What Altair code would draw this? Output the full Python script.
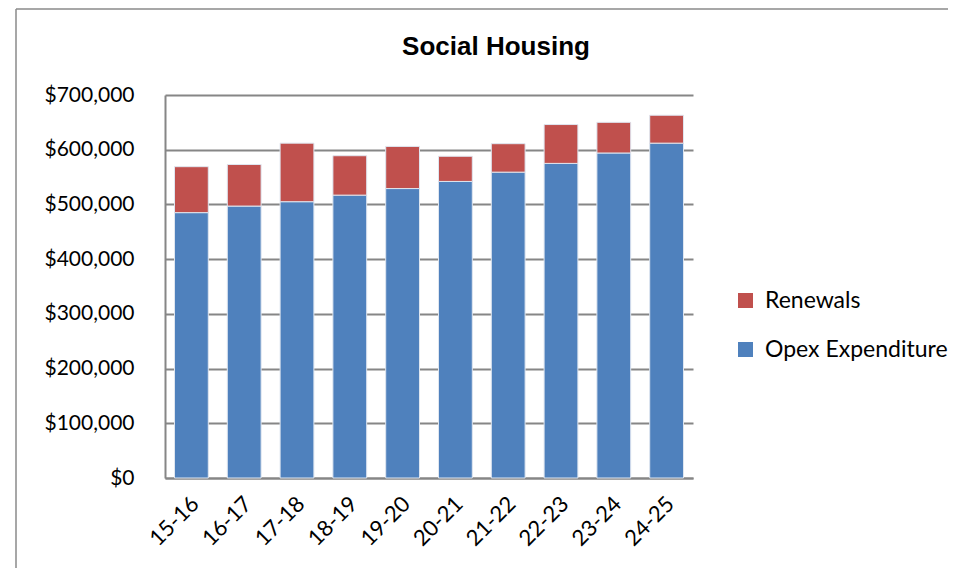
import altair as alt
import pandas as pd

years = ["15-16", "16-17", "17-18", "18-19", "19-20", "20-21", "21-22", "22-23", "23-24", "24-25"]
opex = [485000, 497000, 505000, 517000, 529000, 542000, 559000, 575000, 594000, 612000]
renewals = [84000, 76000, 107000, 72000, 77000, 46000, 52000, 71000, 56000, 51000]
series = ["Renewals", "Opex Expenditure"]
colors = ["#C0504D", "#4F81BD"]
title_text = ["Social Housing"]

rows = []
for y, o, r in zip(years, opex, renewals):
    rows.append({"year": y, "series": "Opex Expenditure", "value": o, "order": 0})
    rows.append({"year": y, "series": "Renewals", "value": r, "order": 1})
df = pd.DataFrame(rows)

FONT = "Lato"

bars = alt.Chart(df).mark_bar(stroke="#dfe6f0", strokeWidth=1).encode(
    x=alt.X("year:N", sort=years, title=None,
            scale=alt.Scale(paddingInner=0.36, paddingOuter=0.18),
            axis=alt.Axis(labelAngle=-45, labelAlign="right", labelBaseline="middle",
                          labelPadding=22, labelOffset=4, ticks=False, domainColor="#868686",
                          domainWidth=2, labelFont=FONT, labelFontSize=22,
                          labelColor="#000000")),
    y=alt.Y("value:Q", stack="zero", title=None,
            scale=alt.Scale(domain=[0, 700000], nice=False),
            axis=alt.Axis(values=[0, 100000, 200000, 300000, 400000, 500000, 600000, 700000],
                          format="$,.0f", ticks=False, labelPadding=31,
                          gridColor="#868686", gridWidth=2, domainColor="#868686",
                          domainWidth=2, labelFont=FONT, labelFontSize=21,
                          labelColor="#000000")),
    color=alt.Color("series:N", scale=alt.Scale(domain=series, range=colors),
                    legend=alt.Legend(title=None, orient="none", legendX=569, legendY=194,
                                      symbolType="square", symbolSize=225,
                                      symbolStrokeWidth=0, rowPadding=25,
                                      labelFont=FONT, labelFontSize=23, labelLimit=400,
                                      labelColor="#000000", labelOffset=8)),
    order=alt.Order("order:Q"),
)

title = alt.Chart(pd.DataFrame({"t": title_text})).mark_text(
    font="Liberation Sans", fontSize=26, fontWeight="bold", color="#000000",
    align="center", baseline="middle"
).encode(text="t:N", x=alt.value(331), y=alt.value(-48))

one = pd.DataFrame({"a": [0]})
frame_left = alt.Chart(one).mark_rule(color="#8a8a8a", strokeWidth=1.5).encode(
    x=alt.value(-149), y=alt.value(-86), y2=alt.value(480))
frame_top = alt.Chart(one).mark_rule(color="#8a8a8a", strokeWidth=1.5).encode(
    x=alt.value(-149), x2=alt.value(783), y=alt.value(-86))

chart = alt.layer(frame_left, frame_top, title, bars).properties(
    width=528, height=383,
    autosize=alt.AutoSizeParams(type="none"),
    padding={"left": 157, "top": 87, "right": 255, "bottom": 90},
).configure_view(stroke=None).configure_axisX(grid=False)

chart.save("out.html", embed_options={"renderer": "svg", "actions": False})
